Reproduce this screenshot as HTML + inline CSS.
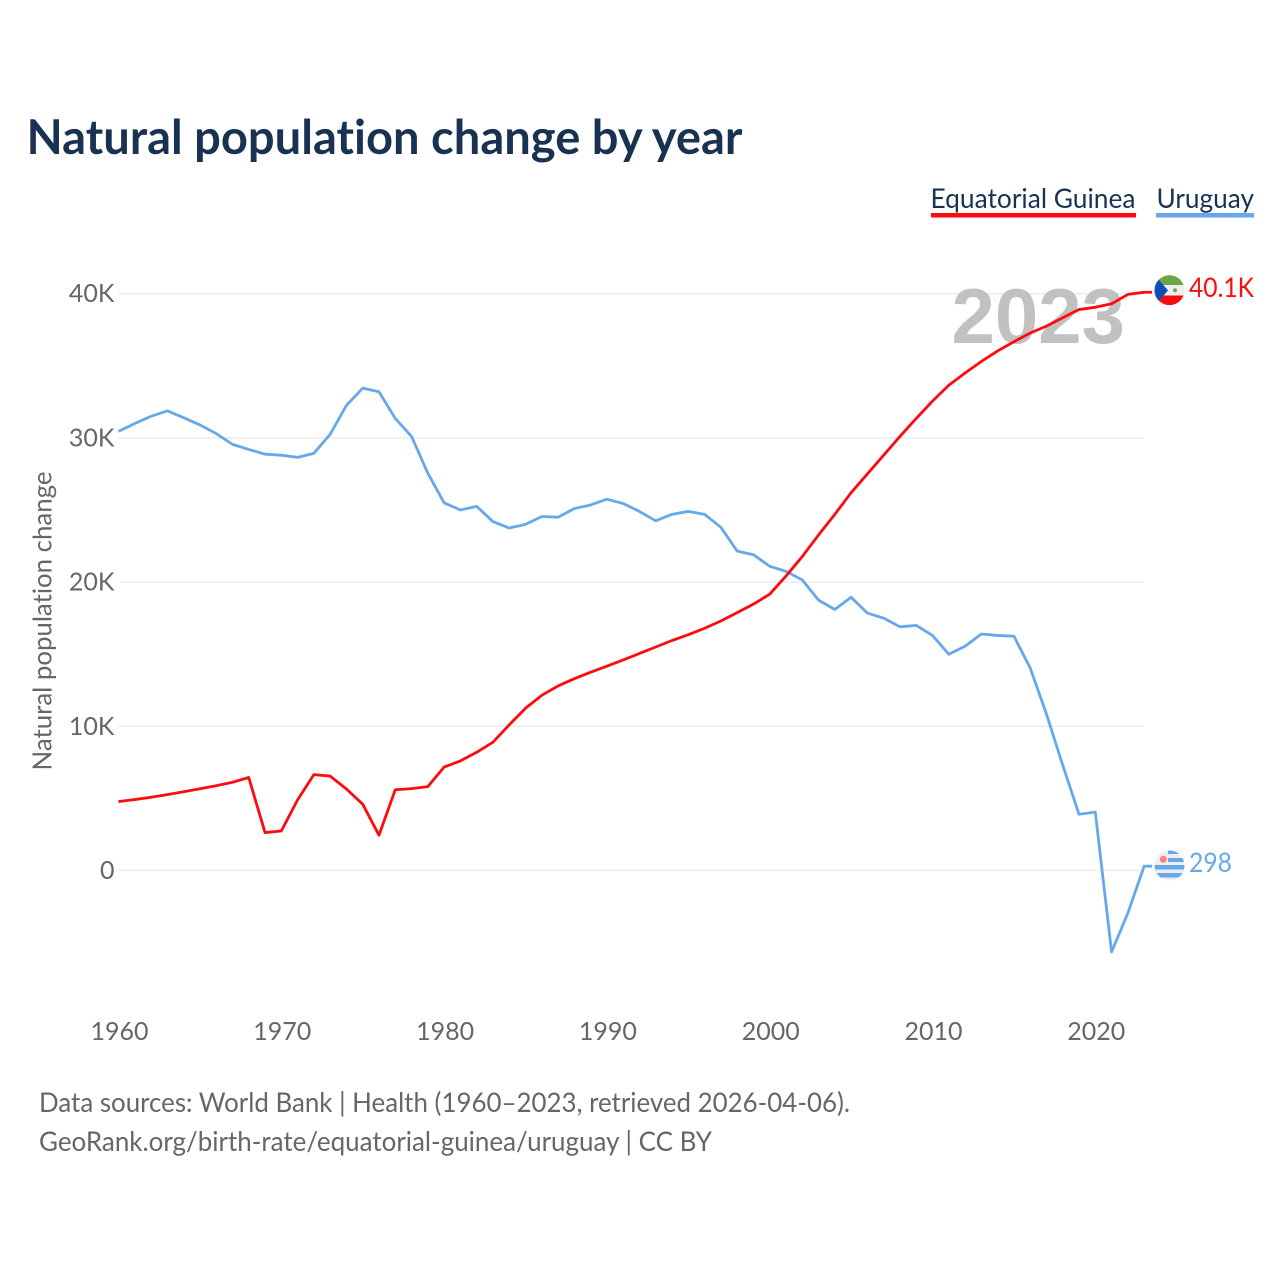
<!DOCTYPE html>
<html lang="en">
<head>
<meta charset="utf-8">
<title>Natural population change by year</title>
<style>
html,body{margin:0;padding:0;background:#fff;}
svg{display:block;}
text{font-family:"Lato","Carlito","Liberation Sans",sans-serif;font-variant-ligatures:none;}
</style>
</head>
<body>
<svg id="chart" width="1280" height="1280" viewBox="0 0 1280 1280" xmlns="http://www.w3.org/2000/svg">
  <rect x="0" y="0" width="1280" height="1280" fill="#ffffff"/>
  <text x="26.5" y="154" font-size="48" font-weight="700" fill="#1a3252" textLength="716" lengthAdjust="spacingAndGlyphs">Natural population change by year</text>

  <g>
    <g>
      <text x="930.5" y="208" font-size="27" fill="#1a3252" textLength="205" lengthAdjust="spacingAndGlyphs">Equatorial Guinea</text>
      <rect x="931" y="213" width="205" height="4.5" fill="#ff0a0e"/>
    </g>
    <g>
      <text x="1156.5" y="208" font-size="27" fill="#1a3252" textLength="97.5" lengthAdjust="spacingAndGlyphs">Uruguay</text>
      <rect x="1156" y="213" width="98" height="4.5" fill="#66a8ea"/>
    </g>
  </g>

  <g id="grid"></g>
  <g id="yticks"></g>
  <g id="xticks"></g>

  <text transform="translate(51.5,621) rotate(-90)" text-anchor="middle" font-size="26" fill="#666666" textLength="299" lengthAdjust="spacingAndGlyphs">Natural population change</text>

  <text x="951.5" y="343" font-size="78" font-weight="700" fill="#c2c0c0" style="font-family:'Liberation Sans',sans-serif">2023</text>

  <g id="series"></g>

  <defs>
    <clipPath id="clip-gq"><circle cx="1169.5" cy="290.2" r="15"/></clipPath>
    <clipPath id="clip-uy"><circle cx="1169.5" cy="865.5" r="15"/></clipPath>
  </defs>

  <g clip-path="url(#clip-gq)">
    <rect x="1154" y="274" width="31" height="11" fill="#6da544"/>
    <rect x="1154" y="285" width="31" height="10.5" fill="#eeeeee"/>
    <rect x="1154" y="295.5" width="31" height="11" fill="#ff0a0e"/>
    <polygon points="1153,273 1153,308 1168,290.5" fill="#0f4fb4"/>
    <circle cx="1175" cy="290.3" r="2" fill="#7f9b6a"/>
  </g>

  <g clip-path="url(#clip-uy)">
    <rect x="1154" y="850" width="31" height="31" fill="#eeeeee"/>
    <rect x="1168" y="850" width="17" height="4" fill="#66a8ea"/>
    <rect x="1168" y="858" width="17" height="4" fill="#66a8ea"/>
    <rect x="1154" y="865" width="31" height="4.5" fill="#66a8ea"/>
    <rect x="1154" y="873" width="31" height="4.5" fill="#66a8ea"/>
    <circle cx="1163.3" cy="859.3" r="3.5" fill="#ff8080"/>
  </g>

  <text x="1189" y="297" font-size="27" fill="#ff0a0e" textLength="65" lengthAdjust="spacingAndGlyphs">40.1K</text>
  <text x="1189" y="872" font-size="27" fill="#66a8ea" textLength="43" lengthAdjust="spacingAndGlyphs">298</text>

  <text x="39" y="1112" font-size="27" fill="#666666" textLength="811" lengthAdjust="spacingAndGlyphs">Data sources: World Bank | Health (1960–2023, retrieved 2026-04-06).</text>
  <text x="39" y="1151" font-size="27" fill="#666666" textLength="673" lengthAdjust="spacingAndGlyphs">GeoRank.org/birth-rate/equatorial-guinea/uruguay | CC BY</text>
</svg>

<script>
const firstYear = 1960;
const yTickValues = [0, 10, 20, 30, 40];
const yTickLabels = ['0', '10K', '20K', '30K', '40K'];
const xTickValues = [1960, 1970, 1980, 1990, 2000, 2010, 2020];
const equatorialGuinea = [
  4.78, 4.92, 5.08, 5.26, 5.46, 5.67, 5.88, 6.12, 6.45, 2.63,
  2.74, 4.9, 6.65, 6.55, 5.65, 4.6, 2.45, 5.6, 5.68, 5.82,
  7.17, 7.6, 8.2, 8.9, 10.1, 11.25, 12.15, 12.8, 13.3, 13.75,
  14.17, 14.6, 15.05, 15.5, 15.95, 16.35, 16.8, 17.3, 17.88, 18.47,
  19.16, 20.42, 21.77, 23.27, 24.7, 26.2, 27.5, 28.8, 30.1, 31.35,
  32.55, 33.65, 34.5, 35.3, 36.03, 36.67, 37.27, 37.75, 38.33, 38.9,
  39.06, 39.3, 39.95, 40.1
];
const uruguay = [
  30.45, 31.0, 31.5, 31.88, 31.4, 30.9, 30.3, 29.55, 29.2, 28.87,
  28.8, 28.65, 28.93, 30.25, 32.25, 33.45, 33.2, 31.35, 30.1, 27.55,
  25.5, 25.0, 25.25, 24.2, 23.75, 24.0, 24.55, 24.5, 25.1, 25.35,
  25.75, 25.45, 24.9, 24.25, 24.7, 24.9, 24.7, 23.8, 22.15, 21.9,
  21.1, 20.75, 20.15, 18.75, 18.1, 18.95, 17.85, 17.5, 16.9, 17.0,
  16.3, 15.0, 15.55, 16.4, 16.3, 16.25, 14.05, 10.85, 7.3, 3.9,
  4.05, -5.65, -2.95, 0.298
];

const NS = 'http://www.w3.org/2000/svg';
const xScale = function (year) { return 118.5 + (year - 1960) * 16.28; };
const yScale = function (value) { return 870.5 - value * 14.42; };
const lastX = xScale(2023);
const gridLayer = document.getElementById('grid');
const yLayer = document.getElementById('yticks');
const xLayer = document.getElementById('xticks');
const seriesLayer = document.getElementById('series');

yTickValues.forEach(function (v, i) {
  const line = document.createElementNS(NS, 'line');
  line.setAttribute('x1', 118.5);
  line.setAttribute('x2', lastX);
  line.setAttribute('y1', yScale(v));
  line.setAttribute('y2', yScale(v));
  line.setAttribute('stroke', '#ececec');
  line.setAttribute('stroke-width', '1.5');
  
  
  gridLayer.appendChild(line);

  const label = document.createElementNS(NS, 'text');
  label.setAttribute('x', 114.5);
  label.setAttribute('y', yScale(v) + 8.5);
  label.setAttribute('text-anchor', 'end');
  label.setAttribute('font-size', '25');
  label.setAttribute('fill', '#666666');
  label.textContent = yTickLabels[i];
  
  
  yLayer.appendChild(label);
});

xTickValues.forEach(function (year) {
  const label = document.createElementNS(NS, 'text');
  label.setAttribute('x', xScale(year) + 1);
  label.setAttribute('y', 1040);
  label.setAttribute('text-anchor', 'middle');
  label.setAttribute('font-size', '25');
  label.setAttribute('fill', '#666666');
  label.textContent = String(year);
  
  
  xLayer.appendChild(label);
});

function drawSeries(values, color, name) {
  const pts = values.map(function (v, i) {
    return xScale(firstYear + i).toFixed(2) + ',' + yScale(v).toFixed(2);
  });
  pts.push((lastX + 8).toFixed(2) + ',' + yScale(values[values.length - 1]).toFixed(2));
  const line = document.createElementNS(NS, 'polyline');
  line.setAttribute('points', pts.join(' '));
  line.setAttribute('fill', 'none');
  line.setAttribute('stroke', color);
  line.setAttribute('stroke-width', '2.8');
  line.setAttribute('stroke-linejoin', 'round');
  
  
  seriesLayer.appendChild(line);
}
drawSeries(uruguay, '#66a8ea', 'series-line-uruguay');
drawSeries(equatorialGuinea, '#ff0a0e', 'series-line-equatorial-guinea');
</script>
</body>
</html>
